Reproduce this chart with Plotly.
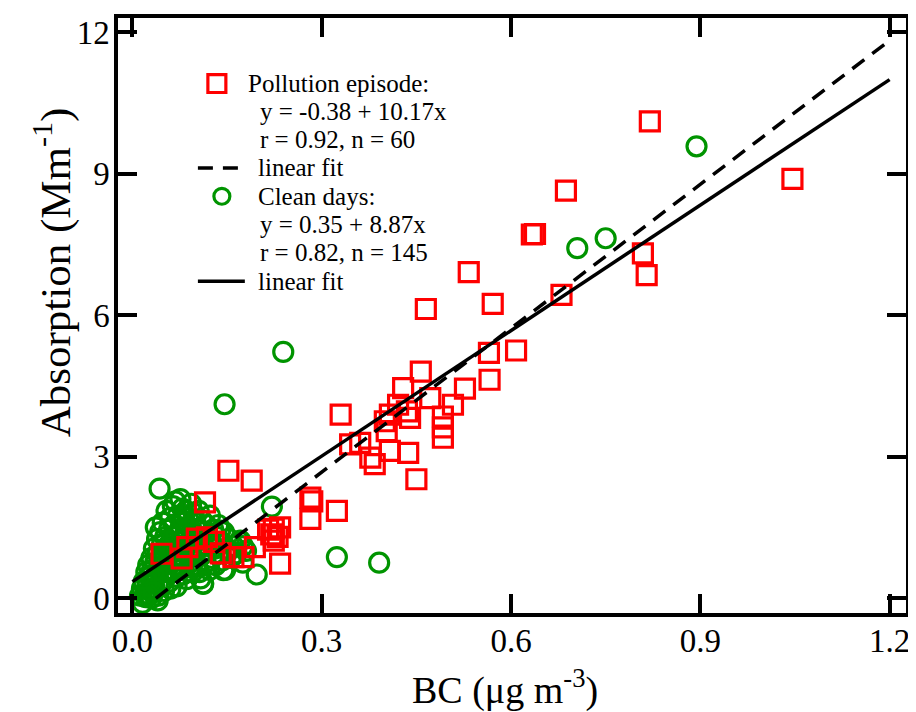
import plotly.graph_objects as go

# ---------------- data ----------------
pollution_bc = [
    0.820, 1.046, 0.687, 0.633, 0.638, 0.809, 0.815, 0.533, 0.571, 0.680,
    0.465, 0.608, 0.565, 0.566, 0.457, 0.527, 0.429, 0.472, 0.330, 0.508,
    0.492, 0.492, 0.492, 0.400, 0.403, 0.361, 0.377, 0.384, 0.408, 0.437,
    0.450, 0.435, 0.440, 0.421, 0.408, 0.345,
    0.152, 0.189, 0.115, 0.282, 0.282, 0.324, 0.224, 0.234, 0.224, 0.220,
    0.234, 0.160, 0.176, 0.118, 0.129, 0.102, 0.087, 0.046, 0.078, 0.194,
    0.285, 0.230, 0.215, 0.140,
]
pollution_abs = [
    10.11, 8.89, 8.64, 7.71, 7.72, 7.31, 6.85, 6.91, 6.24, 6.43,
    6.13, 5.25, 5.20, 4.63, 4.80, 4.44, 4.45, 4.24, 3.89, 4.10,
    3.85, 3.62, 3.40, 3.75, 3.54, 3.29, 2.98, 2.84, 3.12, 3.08,
    2.52, 3.96, 3.82, 4.10, 3.89, 3.26,
    2.70, 2.49, 2.03, 2.13, 1.68, 1.85, 1.47, 1.50, 1.22, 1.35,
    0.73, 0.87, 0.87, 1.29, 1.19, 1.26, 1.08, 0.94, 0.84, 1.08,
    2.05, 1.30, 1.45, 0.95,
]

clean_bc = [
    0.239, 0.146, 0.894, 0.705, 0.750, 0.324, 0.391, 0.221, 0.197, 0.108,
    0.144, 0.175, 0.139, 0.171, 0.112,
    0.012, 0.015, 0.018, 0.020, 0.022, 0.024, 0.025, 0.027, 0.028, 0.030,
    0.031, 0.032, 0.034, 0.035, 0.036, 0.037, 0.038, 0.039, 0.040, 0.041,
    0.042, 0.043, 0.044, 0.045, 0.046, 0.047, 0.048, 0.049, 0.050, 0.051,
    0.052, 0.053, 0.054, 0.055, 0.056, 0.057, 0.058, 0.059, 0.060, 0.061,
    0.062, 0.063, 0.064, 0.065, 0.066, 0.067, 0.068, 0.069, 0.070, 0.071,
    0.072, 0.073, 0.074, 0.075, 0.076, 0.077, 0.078, 0.079, 0.080, 0.081,
    0.082, 0.083, 0.084, 0.085, 0.086, 0.087, 0.088, 0.089, 0.090, 0.091,
    0.092, 0.093, 0.094, 0.095, 0.096, 0.097, 0.098, 0.099, 0.100, 0.101,
    0.102, 0.104, 0.105, 0.106, 0.108, 0.109, 0.110, 0.112, 0.113, 0.114,
    0.116, 0.117, 0.118, 0.120, 0.122, 0.123, 0.125, 0.126, 0.128, 0.130,
    0.132, 0.134, 0.136, 0.138, 0.140, 0.142, 0.145, 0.147, 0.150, 0.153,
    0.156, 0.160, 0.165, 0.170, 0.175, 0.180, 0.060, 0.070, 0.050, 0.030,
    0.040, 0.016, 0.026, 0.033, 0.021,
]
clean_abs = [
    5.22, 4.11, 9.58, 7.42, 7.63, 0.87, 0.75, 1.94, 0.50, 0.42,
    0.59, 1.10, 1.43, 1.22, 0.31,
    0.05, 0.20, 0.35, 0.10, 0.55, 0.28, 0.70, 0.45, 0.15, 0.85,
    0.60, 0.38, 1.05, 0.22, 0.75, 1.50, 0.50, 1.25, 0.95, 0.05,
    0.65, 2.32, 1.40, 0.30, 0.85, 1.15, 1.60, 0.55, 1.00, 0.40,
    1.30, 0.75, 1.85, 0.60, 1.10, 0.90, 1.45, 0.35, 1.70, 0.80,
    1.20, 0.55, 1.95, 1.00, 1.55, 0.70, 2.05, 1.30, 0.45, 0.90,
    1.75, 1.10, 0.60, 1.45, 2.10, 0.85, 1.25, 1.90, 0.50, 1.60,
    1.00, 0.75, 1.35, 1.85, 0.40, 1.15, 1.70, 0.90, 1.50, 0.65,
    1.25, 2.00, 1.05, 0.55, 1.40, 1.80, 0.80, 1.20, 1.60, 0.70,
    1.00, 1.45, 1.85, 0.55, 1.25, 0.90, 1.65, 0.30, 1.10, 1.40,
    0.75, 1.55, 1.00, 1.30, 0.60, 1.75, 1.15, 0.85, 1.45, 1.05,
    0.70, 1.30, 1.55, 0.95, 1.20, 0.80, 1.40, 0.60, 1.05, 1.25,
    0.85, 1.10, 0.95, 1.20, 0.75, 1.00, 0.20, 0.25, 0.15, 0.00,
    -0.05, -0.10, 0.05, 0.12, 0.02,
]

# linear fits (from the stated equations)
poll_fit_intercept, poll_fit_slope = -0.38, 10.17
clean_fit_intercept, clean_fit_slope = 0.35, 8.87
poll_fit_x = [0.037, 1.2]
clean_fit_x = [0.0, 1.2]

x_tickvals = [0.0, 0.3, 0.6, 0.9, 1.2]
x_ticktext = ["0.0", "0.3", "0.6", "0.9", "1.2"]
y_tickvals = [0, 3, 6, 9, 12]
y_ticktext = ["0", "3", "6", "9", "12"]

legend_lines = [
    "Pollution episode:",
    "y = -0.38 + 10.17x",
    "r = 0.92, n = 60",
    "linear fit",
    "Clean days:",
    "y = 0.35 + 8.87x",
    "r = 0.82, n = 145",
    "linear fit",
]

# ---------------- styling / layout ----------------
# the page body has an 8px default margin, so the figure is shrunk and all
# window-pixel positions below are shifted by that amount
PAGE_OFF = 8
WIN_W, WIN_H = 916, 712
W, H = WIN_W - PAGE_OFF, WIN_H - PAGE_OFF
# plot area in window pixels: x 118..907, y 14..613
L = 118 - PAGE_OFF
T = 14 - PAGE_OFF
R = W - (907 - PAGE_OFF)
B = H - (613 - PAGE_OFF)
PW, PH = W - L - R, H - T - B
FONT = "Liberation Serif"
RED = "#ff0000"
GREEN = "#009400"


def px(xp):
    """window x pixel -> paper coordinate"""
    return (xp - PAGE_OFF - L) / PW


def py(yp):
    """window y pixel -> paper coordinate"""
    return (H - B - (yp - PAGE_OFF)) / PH


fig = go.Figure()

fig.add_trace(go.Scatter(
    x=clean_bc, y=clean_abs, mode="markers",
    marker=dict(symbol="circle-open", size=19, color=GREEN, line=dict(width=3.2, color=GREEN)),
    showlegend=False, cliponaxis=False))
fig.add_trace(go.Scatter(
    x=pollution_bc, y=pollution_abs, mode="markers",
    marker=dict(symbol="square-open", size=19, color=RED, line=dict(width=3.2, color=RED)),
    showlegend=False, cliponaxis=False))
fig.add_trace(go.Scatter(
    x=poll_fit_x, y=[poll_fit_intercept + poll_fit_slope * v for v in poll_fit_x],
    mode="lines", line=dict(color="black", width=3.5, dash="15px,10px"), showlegend=False))
fig.add_trace(go.Scatter(
    x=clean_fit_x, y=[clean_fit_intercept + clean_fit_slope * v for v in clean_fit_x],
    mode="lines", line=dict(color="black", width=3.5), showlegend=False))

axis_common = dict(
    showline=True, linewidth=3.5, linecolor="black", mirror="ticks",
    ticks="inside", ticklen=19, tickwidth=3.5, tickcolor="black",
    showgrid=False, zeroline=False,
    tickfont=dict(family=FONT, size=33, color="black"),
)
fig.update_xaxes(range=[-0.0229, 1.226], tickvals=x_tickvals, ticktext=x_ticktext,
                 ticklabelstandoff=-4, **axis_common)
fig.update_yaxes(range=[-0.316, 12.30], tickvals=y_tickvals, ticktext=y_ticktext,
                 ticklabelstandoff=-2, **axis_common)

annotations = [
    dict(text="BC (μg m<sup>-3</sup>)", x=px(505), y=py(688), xref="paper", yref="paper",
         xanchor="center", yanchor="middle", showarrow=False,
         font=dict(family=FONT, size=38, color="black")),
    dict(text="Absorption (Mm<sup>-1</sup>)", x=px(52), y=py(270), xref="paper", yref="paper",
         xanchor="center", yanchor="middle", showarrow=False, textangle=-90,
         font=dict(family=FONT, size=43, color="black")),
]
leg_x = [246, 258, 258, 256, 256, 258, 258, 256]
leg_y = [80, 108, 136.5, 165, 193.5, 222, 250, 279]
for t, lx, ly in zip(legend_lines, leg_x, leg_y):
    annotations.append(dict(text=t, x=px(lx), y=py(ly), xref="paper", yref="paper",
                            xanchor="left", yanchor="middle", showarrow=False,
                            font=dict(family=FONT, size=25, color="black")))

shapes = [
    dict(type="rect", xref="paper", yref="paper", x0=px(208), x1=px(226), y0=py(89), y1=py(71),
         line=dict(color=RED, width=3.2)),
    dict(type="circle", xref="paper", yref="paper", x0=px(214), x1=px(230), y0=py(201.5), y1=py(185.5),
         line=dict(color=GREEN, width=3.2)),
    dict(type="line", xref="paper", yref="paper", x0=px(198), x1=px(243), y0=py(165), y1=py(165),
         line=dict(color="black", width=3.5, dash="15px,10px")),
    dict(type="line", xref="paper", yref="paper", x0=px(198), x1=px(245), y0=py(279), y1=py(279),
         line=dict(color="black", width=3.5)),
]

fig.update_layout(
    width=W, height=H, margin=dict(l=L, r=R, t=T, b=B),
    paper_bgcolor="white", plot_bgcolor="white",
    annotations=annotations, shapes=shapes, showlegend=False,
)

fig.write_html("out.html")
